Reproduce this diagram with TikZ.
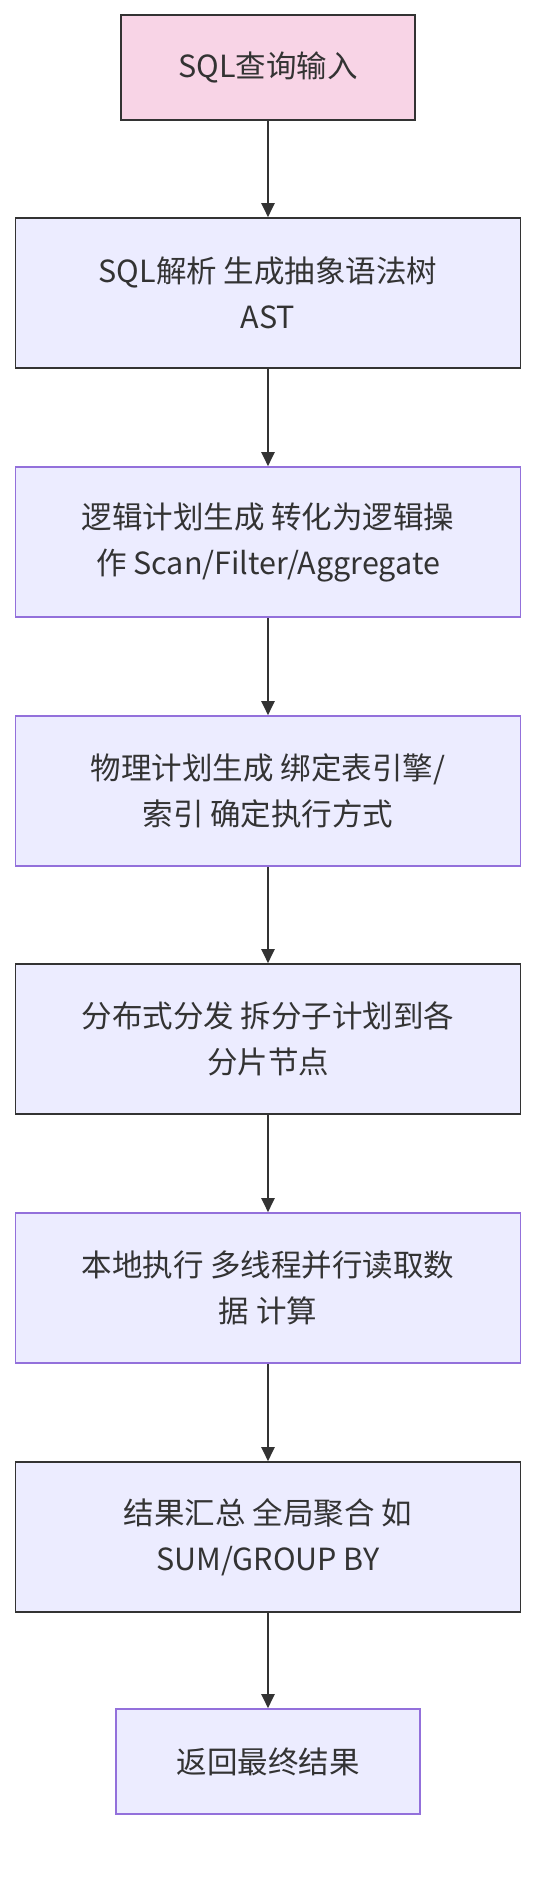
\documentclass[tikz,border=0pt]{standalone}
\usepackage{fontspec}
\setmainfont{Noto Sans CJK SC}
\usetikzlibrary{arrows.meta}
\definecolor{pinkfill}{HTML}{F8D4E6}
\definecolor{lav}{HTML}{ECECFF}
\definecolor{purp}{HTML}{9370DB}
\definecolor{dark}{HTML}{333333}
\tikzset{
  box/.style={draw=dark, line width=1.6pt, fill=lav, text=dark, align=center,
    inner sep=0pt, font=\fontsize{30.5}{46}\selectfont},
  bigbox/.style={box, minimum width=505pt, minimum height=150pt},
  purpbox/.style={draw=purp},
  flow/.style={draw=dark, line width=2pt, -{Triangle[width=13pt,length=14pt]}}
}
\begin{document}
\begin{tikzpicture}[x=1pt,y=-1pt]
\useasboundingbox (0,0) rectangle (552,1884);
\node[box, fill=pinkfill, minimum width=294pt, minimum height=105pt] (n1) at (268,67.5) {SQL查询输入};
\node[bigbox] (n2) at (268,293) {SQL解析 生成抽象语法树\\AST};
\node[bigbox, purpbox] (n3) at (268,542) {逻辑计划生成 转化为逻辑操\\作 Scan/Filter/Aggregate};
\node[bigbox, purpbox] (n4) at (268,791) {物理计划生成 绑定表引擎/\\索引 确定执行方式};
\node[bigbox] (n5) at (268,1039) {分布式分发 拆分子计划到各\\分片节点};
\node[bigbox, purpbox] (n6) at (268,1288) {本地执行 多线程并行读取数\\据 计算};
\node[bigbox] (n7) at (268,1537) {结果汇总 全局聚合 如\\SUM/GROUP BY};
\node[box, purpbox, minimum width=304pt, minimum height=105pt] (n8) at (268,1761.5) {返回最终结果};
\draw[flow] (n1) -- (n2);
\draw[flow] (n2) -- (n3);
\draw[flow] (n3) -- (n4);
\draw[flow] (n4) -- (n5);
\draw[flow] (n5) -- (n6);
\draw[flow] (n6) -- (n7);
\draw[flow] (n7) -- (n8);
\end{tikzpicture}
\end{document}
